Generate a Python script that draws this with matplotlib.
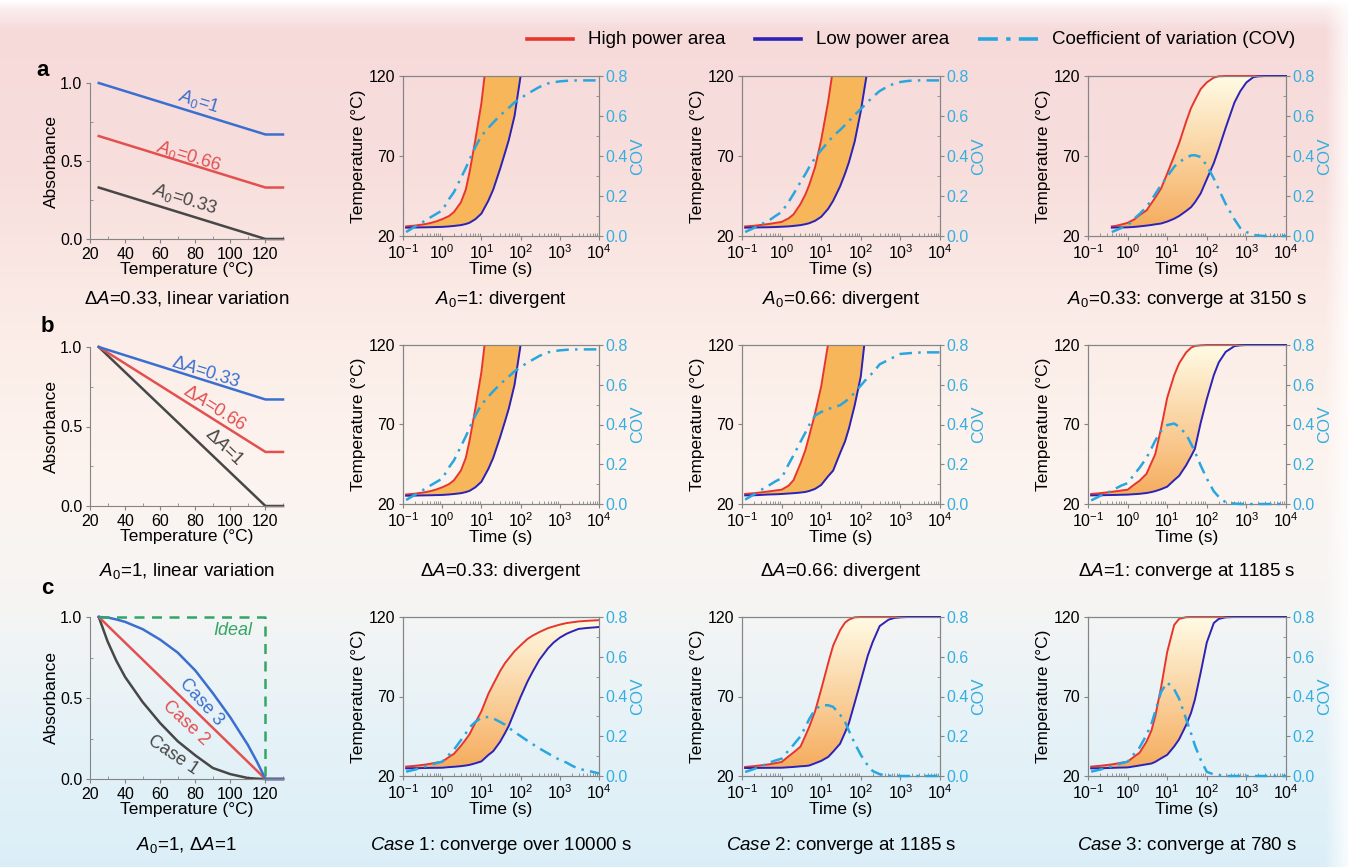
import numpy as np
import matplotlib
matplotlib.use("Agg")
import matplotlib.pyplot as plt
from matplotlib.lines import Line2D
from matplotlib.ticker import LogLocator, MultipleLocator, FormatStrFormatter, NullFormatter

plt.rcParams["font.family"] = ["Liberation Sans", "DejaVu Sans"]
plt.rcParams["mathtext.fontset"] = "custom"
plt.rcParams["mathtext.rm"] = "Liberation Sans"
plt.rcParams["mathtext.it"] = "Liberation Sans:italic"
plt.rcParams["mathtext.bf"] = "Liberation Sans:bold"
plt.rcParams["axes.linewidth"] = 0.8

nan = np.nan

# ---------------- absorbance panels (first column) ----------------
abs_temp = [25, 120, 130]
a_A0_1 = [1.0, 0.67, 0.67]
a_A0_066 = [0.66, 0.33, 0.33]
a_A0_033 = [0.33, 0.0, 0.0]
b_dA_033 = [1.0, 0.67, 0.67]
b_dA_066 = [1.0, 0.34, 0.34]
b_dA_1 = [1.0, 0.0, 0.0]

case_temp = [25, 30, 35, 40, 50, 60, 70, 80, 90, 100, 110, 115, 120, 130]
case1 = [1.0, 0.85, 0.73, 0.63, 0.475, 0.345, 0.233, 0.146, 0.068, 0.03, 0.006, 0.002, 0.0, 0.0]
case3 = [1.0, 0.997, 0.985, 0.97, 0.925, 0.86, 0.78, 0.67, 0.53, 0.38, 0.21, 0.11, 0.0, 0.0]
case2_temp = [25, 120, 130]
case2 = [1.0, 0.0, 0.0]
ideal_temp = [25, 120, 120]
ideal = [1.0, 1.0, 0.0]

# ---------------- temperature / COV panels ----------------
t_grid = [0.12, 0.2, 0.3, 0.4, 0.5, 0.7, 1, 1.5, 2, 3, 4, 5, 7, 10, 15, 20, 30, 40, 50,
          70, 100, 150, 200, 300, 500, 700, 1000, 1500, 2000, 3000, 5000, 10000]

# A0=1, dA=0.33 (row a col 2 and row b col 2)
a2_high = [26, 26.5, 27.1, 27.6, 28.1, 29.1, 30.5, 32.5, 35, 41, 49, 60, 80, 103, 140, nan,
           nan, nan, nan, nan, nan, nan, nan, nan, nan, nan, nan, nan, nan, nan, nan, nan]
a2_low = [25.2, 25.3, 25.4, 25.45, 25.5, 25.6, 25.7, 26, 26.3, 26.8, 27.5, 28.3, 30.5, 34, 42, 49,
          62, 72, 80, 95, 120, 150, nan, nan, nan, nan, nan, nan, nan, nan, nan, nan]
a2_cov = [0.02, 0.046, 0.067, 0.08, 0.093, 0.11, 0.128, 0.185, 0.22, 0.29, 0.34, 0.383, 0.445, 0.5,
          0.54, 0.567, 0.603, 0.624, 0.641, 0.668, 0.688, 0.712, 0.725, 0.745, 0.763, 0.769, 0.773,
          0.776, 0.777, 0.778, 0.778, 0.778]

# A0=0.66, dA=0.33
a3_high = [26, 26.4, 26.9, 27.3, 27.6, 28.2, 28.8, 31, 33.5, 40, 46, 52, 63, 80, 104, 125,
           nan, nan, nan, nan, nan, nan, nan, nan, nan, nan, nan, nan, nan, nan, nan, nan]
a3_low = [25.2, 25.3, 25.4, 25.45, 25.5, 25.6, 25.8, 26, 26.3, 26.8, 27.4, 28, 29.5, 32, 37, 42,
          51, 59, 66, 79, 98, 125, nan, nan, nan, nan, nan, nan, nan, nan, nan, nan]
a3_cov = [0.02, 0.04, 0.058, 0.07, 0.08, 0.1, 0.12, 0.17, 0.21, 0.27, 0.31, 0.345, 0.39, 0.43,
          0.47, 0.5, 0.53, 0.555, 0.575, 0.605, 0.635, 0.67, 0.695, 0.725, 0.75, 0.762, 0.77,
          0.775, 0.777, 0.778, 0.778, 0.778]

# A0=0.33, dA=0.33
a4_high = [nan, nan, nan, 26, 26.3, 27.2, 28.2, 30.5, 33, 36, 40.5, 44, 49.7, 59, 70, 78, 91.4,
           100, 104.8, 111.8, 116, 119, 119.8, 120, 120, 120, 120, 120, 120, 120, 120, 120]
a4_low = [nan, nan, nan, 25.2, 25.3, 25.35, 25.4, 25.7, 26, 26.5, 26.9, 27.3, 27.8, 29, 30.8,
          32.5, 35.6, 38, 41, 46.6, 55.5, 65.5, 74.4, 87.7, 103.5, 110.5, 116, 119.3, 119.8,
          120, 120, 120]
a4_cov = [nan, nan, nan, 0.02, 0.028, 0.04, 0.053, 0.088, 0.11, 0.145, 0.18, 0.21, 0.255, 0.297,
          0.346, 0.37, 0.39, 0.403, 0.404, 0.395, 0.352, 0.288, 0.234, 0.16, 0.083, 0.04, 0.02,
          0.006, 0.002, 0, 0, 0]

# A0=1, dA=0.66
b3_high = [26.3, 26.8, 27.3, 27.7, 28, 28.5, 29, 31.5, 35, 45.5, 54, 63, 77, 94, 121, 145,
           nan, nan, nan, nan, nan, nan, nan, nan, nan, nan, nan, nan, nan, nan, nan, nan]
b3_low = [25.4, 25.5, 25.7, 25.9, 26, 26.1, 26.3, 26.6, 26.8, 27.2, 27.6, 28.2, 29.5, 32, 37.5,
          41, 52, 59.4, 67.4, 82, 100.3, 140, nan, nan, nan, nan, nan, nan, nan, nan, nan, nan]
b3_cov = [0.022, 0.048, 0.07, 0.085, 0.096, 0.114, 0.13, 0.2, 0.245, 0.313, 0.36, 0.398, 0.445,
          0.463, 0.478, 0.486, 0.497, 0.515, 0.53, 0.56, 0.596, 0.637, 0.66, 0.703, 0.725, 0.74,
          0.755, 0.758, 0.76, 0.762, 0.763, 0.763]

# A0=1, dA=1
b4_high = [26.3, 26.8, 27.3, 27.7, 28, 28.5, 29, 32.4, 34.6, 39, 46, 51.4, 67.6, 86.8, 101, 108.5,
           115.3, 118.3, 119.4, 119.8, 120, 120, 120, 120, 120, 120, 120, 120, 120, 120, 120, 120]
b4_low = [25.4, 25.5, 25.6, 25.65, 25.7, 25.8, 25.9, 26.2, 26.4, 26.9, 27.5, 28.1, 29.3, 30.9, 35,
          37.7, 44.3, 50, 54.7, 71, 86, 101, 109, 115.7, 119.3, 119.8, 120, 120, 120, 120, 120, 120]
b4_cov = [0.018, 0.04, 0.055, 0.068, 0.078, 0.093, 0.105, 0.151, 0.182, 0.232, 0.28, 0.319, 0.367,
          0.397, 0.405, 0.388, 0.351, 0.303, 0.263, 0.194, 0.128, 0.064, 0.036, 0.008, 0.002, 0,
          0, 0, 0, 0, 0, 0]

# Case 1
c2_high = [25.9, 26.4, 26.9, 27.3, 27.7, 28.4, 29, 32, 34, 39, 43, 46.4, 53.5, 60.7, 71.6, 77.7,
           86, 91, 94, 98.5, 102.2, 106.2, 108.2, 110.5, 113, 114.1, 115.2, 116.2, 116.6, 117.2,
           117.6, 118]
c2_low = [24.8, 24.9, 25, 25.05, 25.1, 25.15, 25.2, 25.6, 25.8, 26.2, 26.6, 27, 28, 29.2, 33.2,
          35.6, 41.5, 47, 51.6, 60.4, 69.7, 79.4, 85.3, 93, 100.3, 104, 107, 109.5, 110.8, 112.5,
          113.1, 113.7]
c2_cov = [0.022, 0.032, 0.042, 0.05, 0.056, 0.064, 0.072, 0.108, 0.133, 0.18, 0.215, 0.245,
          0.272, 0.294, 0.297, 0.29, 0.272, 0.258, 0.243, 0.221, 0.201, 0.177, 0.161, 0.139,
          0.114, 0.097, 0.081, 0.067, 0.053, 0.036, 0.027, 0.013]

# Case 2
c3_high = [25.7, 26.2, 26.7, 27.1, 27.4, 28.1, 28.8, 32.4, 34.8, 38.5, 45.4, 51, 60.7, 74.5, 91,
           102, 111.7, 116.5, 118.3, 119.8, 120, 120, 120, 120, 120, 120, 120, 120, 120, 120,
           120, 120]
c3_low = [25, 25.05, 25.1, 25.12, 25.15, 25.18, 25.2, 25.5, 25.7, 26.1, 26.3, 26.6, 28, 29.5, 32,
          35.3, 40.3, 47.4, 53.2, 66, 79.8, 95.7, 104.3, 114.3, 118.3, 119.4, 119.8, 120, 120,
          120, 120, 120]
c3_cov = [0.02, 0.035, 0.048, 0.06, 0.068, 0.078, 0.087, 0.129, 0.157, 0.2, 0.247, 0.287, 0.335,
          0.356, 0.356, 0.348, 0.308, 0.272, 0.228, 0.165, 0.106, 0.053, 0.025, 0.009, 0.001, 0,
          0, 0, 0, 0, 0, 0]

# Case 3
c4_high = [25.9, 26.4, 26.9, 27.3, 27.7, 28.4, 29, 32.4, 34.6, 41.6, 48.6, 57.7, 75.7, 98, 115,
           118.8, 119.9, 120, 120, 120, 120, 120, 120, 120, 120, 120, 120, 120, 120, 120, 120, 120]
c4_low = [24.8, 24.9, 25, 25.1, 25.2, 25.3, 25.4, 26.1, 26.6, 27.35, 27.85, 28.9, 31.1, 33.3, 38.6,
          43.1, 52, 59.7, 68, 85, 104, 116.2, 118.8, 119.8, 120, 120, 120, 120, 120, 120, 120, 120]
c4_cov = [0.022, 0.032, 0.042, 0.05, 0.056, 0.064, 0.072, 0.114, 0.143, 0.206, 0.262, 0.326,
          0.423, 0.471, 0.436, 0.389, 0.287, 0.215, 0.154, 0.082, 0.021, 0.008, 0.004, 0, 0, 0,
          0, 0, 0, 0, 0, 0]

captions_a = [r"$\Delta A$=0.33, linear variation", r"$A_0$=1: divergent",
              r"$A_0$=0.66: divergent", r"$A_0$=0.33: converge at 3150 s"]
captions_b = [r"$A_0$=1, linear variation", r"$\Delta A$=0.33: divergent",
              r"$\Delta A$=0.66: divergent", r"$\Delta A$=1: converge at 1185 s"]
captions_c = [r"$A_0$=1, $\Delta A$=1", r"$\mathit{Case}$ 1: converge over 10000 s",
              r"$\mathit{Case}$ 2: converge at 1185 s", r"$\mathit{Case}$ 3: converge at 780 s"]
legend_labels = ["High power area", "Low power area", "Coefficient of variation (COV)"]

# ---------------- style ----------------
RED = "#e8352c"
BLUE = "#2b22b8"
COVC = "#2aa6df"
COVTXT = "#36afdf"
ORANGE = "#f6b659"
SPINE = "#858585"
L_BLUE = "#3b6fcf"
L_RED = "#e25050"
L_GRAY = "#474747"
GREEN = "#35a565"
COV_LS = (0, (5, 2.5, 1, 2.5))

W, H = 1348, 867
fig = plt.figure(figsize=(W / 100, H / 100), dpi=100)


def rect(x0, y0, x1, y1):
    return [x0 / W, 1 - y1 / H, (x1 - x0) / W, (y1 - y0) / H]


# background gradient (pink -> cream -> light blue)
ys = [0, 9, 30, 180, 320, 460, 600, 730, 867]
cs = np.array([[1.0, 1.0, 1.0], [0.985, 0.93, 0.93], [0.965, 0.855, 0.855], [0.97, 0.875, 0.865],
               [0.985, 0.925, 0.905], [0.99, 0.955, 0.935], [0.965, 0.96, 0.955],
               [0.9, 0.95, 0.97], [0.86, 0.935, 0.97]])
rows = np.arange(H)
col = np.stack([np.interp(rows, ys, cs[:, i]) for i in range(3)], axis=1)
img = np.repeat(col[:, None, :], W, axis=1)
fade = (np.clip((np.arange(W) - 1325) / 20, 0, 1) * 0.75)[None, :, None]
img = img * (1 - fade) + fade
bg = fig.add_axes([0, 0, 1, 1], zorder=-10)
bg.imshow(img, aspect="auto", interpolation="bilinear")
bg.axis("off")

g = np.linspace(0, 1, 200)[:, None, None]
grad_img = np.array([0.96, 0.66, 0.34]) * (1 - g) + np.array([1.0, 0.985, 0.9]) * g


def style_spines(ax):
    for s in ax.spines.values():
        s.set_color(SPINE)
        s.set_linewidth(0.8)


def time_panel(pos, high, low, cov, gradient):
    t = np.array(t_grid, float)
    high = np.array(high, float)
    low = np.array(low, float)
    ax = fig.add_axes(rect(*pos))
    ax.patch.set_alpha(0)
    top = np.where(np.isnan(high), 120, high)
    if gradient:
        poly = ax.fill_between(t, low, top, facecolor="none", edgecolor="none")
        im = ax.imshow(grad_img, extent=[0.1, 1e4, 20, 120], origin="lower", aspect="auto",
                       interpolation="bilinear", zorder=1)
        im.set_clip_path(poly.get_paths()[0], ax.transData)
    else:
        ax.fill_between(t, low, top, color=ORANGE, lw=0, zorder=1)
    # lines that leave the frame are clipped, flat ones at 120 are drawn in full
    ax.plot(t, high, color=RED, lw=1.4, zorder=3, clip_on=bool(np.nanmax(high) > 120))
    ax.plot(t, low, color=BLUE, lw=1.4, zorder=3, clip_on=bool(np.nanmax(low) > 120))
    ax.set_xscale("log")
    ax.set_xlim(0.1, 1e4)
    ax.set_ylim(20, 120)
    ax.set_yticks([20, 70, 120])
    ax.xaxis.set_major_locator(LogLocator(base=10, numticks=12))
    ax.xaxis.set_minor_locator(LogLocator(base=10, subs=np.arange(2, 10), numticks=12))
    ax.xaxis.set_minor_formatter(NullFormatter())
    style_spines(ax)
    ax.tick_params(which="major", direction="out", length=3, width=0.8, color=SPINE,
                   labelsize=11.5)
    ax.tick_params(axis="x", which="major", pad=2.5)
    ax.tick_params(axis="y", which="major", pad=2.5)
    ax.tick_params(which="minor", direction="in", length=2, width=0.6, color=SPINE)
    ax.set_xlabel("Time (s)", fontsize=12.5, labelpad=0)
    ax.set_ylabel("Temperature (°C)", fontsize=12.5, labelpad=2)

    ax2 = ax.twinx()
    ax2.set_ylim(0, 0.8)
    ax2.set_yticks([0, 0.2, 0.4, 0.6, 0.8])
    ax2.yaxis.set_minor_locator(MultipleLocator(0.1))
    ax2.yaxis.set_major_formatter(FormatStrFormatter("%.1f"))
    style_spines(ax2)
    ax2.tick_params(axis="y", which="major", direction="out", length=3, width=0.8, color=SPINE,
                    labelcolor=COVTXT, labelsize=11.5, pad=1.5)
    ax2.tick_params(axis="y", which="minor", direction="in", length=2, width=0.6, color=SPINE)
    ax2.set_ylabel("COV", color=COVTXT, fontsize=12.5, labelpad=2)
    ax2.plot(t, cov, color=COVC, lw=1.8, ls=COV_LS, clip_on=False, zorder=4)
    return ax


def abs_panel(pos):
    ax = fig.add_axes(rect(*pos))
    ax.patch.set_alpha(0)
    ax.set_xlim(20, 130)
    ax.set_ylim(0, 1)
    ax.spines[["top", "right"]].set_visible(False)
    style_spines(ax)
    ax.set_xticks([20, 40, 60, 80, 100, 120])
    ax.xaxis.set_minor_locator(MultipleLocator(10))
    ax.set_yticks([0, 0.5, 1.0])
    ax.yaxis.set_minor_locator(MultipleLocator(0.25))
    ax.yaxis.set_major_formatter(FormatStrFormatter("%.1f"))
    ax.tick_params(which="major", direction="out", length=3, width=0.8, color=SPINE,
                   labelsize=11.5, pad=2.5)
    ax.tick_params(which="minor", direction="in", length=2, width=0.6, color=SPINE)
    ax.set_xlabel("Temperature (°C)", fontsize=12.5, labelpad=0)
    ax.set_ylabel("Absorbance", fontsize=12.5, labelpad=1)
    return ax


def line_label(ax, x, y, s, color, xs, ys, italic=False, rot=None):
    if rot is None:
        p0 = ax.transData.transform((xs[0], ys[0]))
        p1 = ax.transData.transform((xs[1], ys[1]))
        rot = np.degrees(np.arctan2(p1[1] - p0[1], p1[0] - p0[0]))
    ax.text(x, y, s, color=color, fontsize=13, rotation=rot, rotation_mode="anchor",
            ha="center", va="center", style="italic" if italic else "normal")


col1_x = (90, 283)
cols_x = [(403, 599), (742, 940), (1088, 1286)]
col1_y = [(83, 239), (347, 506), (617, 779)]
rows_y = [(76, 236), (345, 504), (617, 776)]
caption_y = [299, 571, 845]

# row a, column 1
ax = abs_panel((col1_x[0], col1_y[0][0], col1_x[1], col1_y[0][1]))
for vals, c in [(a_A0_033, L_GRAY), (a_A0_066, L_RED), (a_A0_1, L_BLUE)]:
    ax.plot(abs_temp, vals, color=c, lw=1.8, clip_on=False)
line_label(ax, 81.9, 0.882, r"$A_0$=1", L_BLUE, abs_temp, a_A0_1)
line_label(ax, 76.2, 0.53, r"$A_0$=0.66", L_RED, abs_temp, a_A0_066)
line_label(ax, 74.3, 0.252, r"$A_0$=0.33", L_GRAY, abs_temp, a_A0_033)

# row b, column 1
ax = abs_panel((col1_x[0], col1_y[1][0], col1_x[1], col1_y[1][1]))
for vals, c in [(b_dA_1, L_GRAY), (b_dA_066, L_RED), (b_dA_033, L_BLUE)]:
    ax.plot(abs_temp, vals, color=c, lw=1.8, clip_on=False)
line_label(ax, 86.2, 0.843, r"$\Delta A$=0.33", L_BLUE, abs_temp, b_dA_033)
line_label(ax, 90.8, 0.612, r"$\Delta A$=0.66", L_RED, abs_temp, b_dA_066)
line_label(ax, 96.3, 0.371, r"$\Delta A$=1", L_GRAY, abs_temp, b_dA_1)

# row c, column 1
ax = abs_panel((col1_x[0], col1_y[2][0], col1_x[1], col1_y[2][1]))
ax.plot(case_temp, case1, color=L_GRAY, lw=1.8, clip_on=False)
ax.plot(case2_temp, case2, color=L_RED, lw=1.8, clip_on=False)
ax.plot(case_temp, case3, color=L_BLUE, lw=1.8, clip_on=False)
ax.plot(ideal_temp, ideal, color=GREEN, lw=1.8, ls=(0, (4, 3)), clip_on=False)
line_label(ax, 83.2, 0.477, "Case 3", L_BLUE, None, None, rot=-48)
line_label(ax, 74.9, 0.344, "Case 2", L_RED, None, None, rot=-43)
line_label(ax, 67.5, 0.15, "Case 1", L_GRAY, None, None, rot=-34)
ax.text(101.6, 0.918, "Ideal", color=GREEN, fontsize=13, style="italic", ha="center", va="center")

# time panels
panels = [
    (0, 0, a2_high, a2_low, a2_cov, False),
    (0, 1, a3_high, a3_low, a3_cov, False),
    (0, 2, a4_high, a4_low, a4_cov, True),
    (1, 0, a2_high, a2_low, a2_cov, False),
    (1, 1, b3_high, b3_low, b3_cov, False),
    (1, 2, b4_high, b4_low, b4_cov, True),
    (2, 0, c2_high, c2_low, c2_cov, True),
    (2, 1, c3_high, c3_low, c3_cov, True),
    (2, 2, c4_high, c4_low, c4_cov, True),
]
for r, c, hi, lo, cv, grad in panels:
    x0, x1 = cols_x[c]
    y0, y1 = rows_y[r]
    time_panel((x0, y0, x1, y1), hi, lo, cv, grad)

# captions
centers = [sum(col1_x) / 2] + [sum(cx) / 2 for cx in cols_x]
for r, caps in enumerate([captions_a, captions_b, captions_c]):
    for cx, s in zip(centers, caps):
        fig.text(cx / W, 1 - caption_y[r] / H, s, fontsize=13.5, ha="center", va="center")

# panel letters
for s, (x, y) in zip("abc", [(43, 70), (47, 327), (47, 588)]):
    fig.text(x / W, 1 - y / H, s, fontsize=16, weight="bold", ha="center", va="center")

# legend
ly = 1 - 39 / H
fig.add_artist(Line2D([527 / W, 573 / W], [ly, ly], color=RED, lw=2.6, transform=fig.transFigure))
fig.text(588 / W, ly, legend_labels[0], fontsize=13.5, va="center")
fig.add_artist(Line2D([755 / W, 801 / W], [ly, ly], color=BLUE, lw=2.6, transform=fig.transFigure))
fig.text(816 / W, ly, legend_labels[1], fontsize=13.5, va="center")
fig.add_artist(Line2D([978 / W, 1038 / W], [ly, ly], color=COVC, lw=2.6,
                      ls=(0, (5.5, 2.3, 1.2, 2.3)), transform=fig.transFigure))
fig.text(1052 / W, ly, legend_labels[2], fontsize=13.5, va="center")

fig.savefig("out.png", dpi=100)
